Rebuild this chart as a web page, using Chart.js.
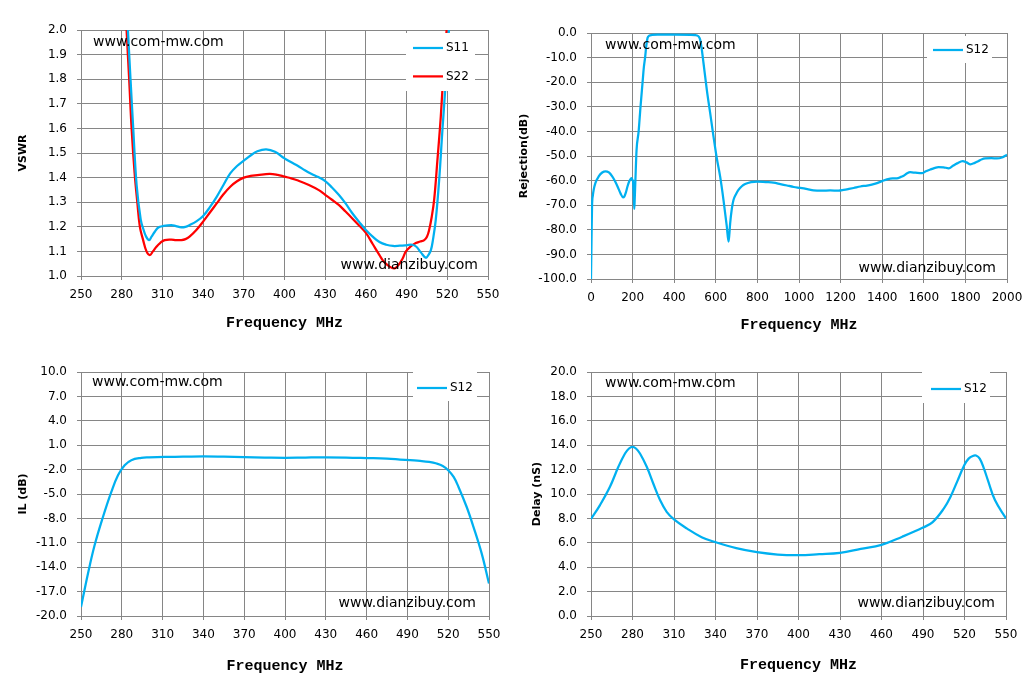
<!DOCTYPE html>
<html>
<head>
<meta charset="utf-8">
<script src="https://cdn.jsdelivr.net/npm/chart.js@4.4.1/dist/chart.umd.min.js"></script>
<style>
  body { margin: 0; background: #fff; width: 1031px; height: 682px; position: relative; overflow: hidden; }
  canvas { position: absolute; }
</style>
</head>
<body>
<canvas id="vswr" width="510" height="340" style="left:0;top:0"></canvas>
<canvas id="rej" width="521" height="340" style="left:510px;top:0"></canvas>
<canvas id="il" width="510" height="342" style="left:0;top:340px"></canvas>
<canvas id="delay" width="521" height="342" style="left:510px;top:340px"></canvas>
<script>
// ---- data ----
const bandTicks = [250, 280, 310, 340, 370, 400, 430, 460, 490, 520, 550];
const wideTicks = [0, 200, 400, 600, 800, 1000, 1200, 1400, 1600, 1800, 2000];
const vswrTicks = [1.0, 1.1, 1.2, 1.3, 1.4, 1.5, 1.6, 1.7, 1.8, 1.9, 2.0];
const rejTicks = [-100, -90, -80, -70, -60, -50, -40, -30, -20, -10, 0];
const ilTicks = [-20, -17, -14, -11, -8, -5, -2, 1, 4, 7, 10];
const delayTicks = [0, 2, 4, 6, 8, 10, 12, 14, 16, 18, 20];

const s11Freq = [282.5, 284.6, 286.5, 288.5, 291, 294, 296, 298, 300.2, 302, 304.4, 307, 310.5, 316.6, 320, 324, 327, 330,
  335, 340, 345, 350, 355, 360, 365, 370, 375, 380, 386.5, 393, 400, 405, 410, 415, 420, 425, 430, 435, 440, 445, 450,
  455, 460, 465, 470, 475, 480, 485, 490, 494, 497, 500.5, 504.2, 506, 507.9, 509.5, 511.5, 514, 516.4, 518.6, 521.2, 522.5];
const s11Vswr = [2.25, 2.0, 1.8, 1.6, 1.37, 1.23, 1.19, 1.16, 1.146, 1.16, 1.18, 1.197, 1.203, 1.207, 1.203, 1.198, 1.2, 1.207,
  1.222, 1.244, 1.28, 1.322, 1.37, 1.417, 1.447, 1.469, 1.49, 1.507, 1.515, 1.505, 1.478, 1.462, 1.447, 1.43, 1.415, 1.402,
  1.386, 1.36, 1.33, 1.295, 1.255, 1.22, 1.187, 1.16, 1.138, 1.127, 1.122, 1.123, 1.125, 1.127, 1.12, 1.096, 1.074, 1.085,
  1.105, 1.15, 1.228, 1.39, 1.593, 1.77, 2.0, 2.12];

const s22Freq = [281.5, 283.6, 285.5, 287.3, 289.5, 291.5, 293.4, 295.8, 298.3, 300.7, 303, 305.6, 308.5, 311.7, 316.6, 320,
  324, 327, 330, 335, 340, 345, 350, 355, 360, 365, 370, 375, 380, 389, 395, 400, 405, 410, 418, 425,
  430, 435, 440, 445, 450, 455, 460, 465, 470, 473, 477, 481, 484, 487, 489.5, 493, 496.8, 500, 503, 505, 506.6, 508.5,
  510.3, 512.7, 515.2, 517.6, 519.5, 521];
const s22Vswr = [2.25, 2.0, 1.8, 1.6, 1.42, 1.3, 1.2, 1.146, 1.1, 1.085, 1.1, 1.119, 1.135, 1.146, 1.148, 1.146, 1.146, 1.15,
  1.16, 1.187, 1.221, 1.258, 1.295, 1.332, 1.363, 1.385, 1.4, 1.407, 1.41, 1.415, 1.411, 1.404, 1.397, 1.388, 1.37, 1.35,
  1.33, 1.31, 1.289, 1.262, 1.234, 1.205, 1.175, 1.13, 1.085, 1.06, 1.04, 1.031, 1.045, 1.07, 1.1, 1.12, 1.134,
  1.14, 1.146, 1.16, 1.187, 1.24, 1.309, 1.47, 1.648, 1.865, 2.0, 2.13];

const rejFreq = [0, 3, 5, 9, 13, 21, 37, 54, 70, 86, 102, 115, 127, 143, 154, 160, 167, 175, 184, 195, 200, 202, 205, 208,
  210, 213, 219, 229, 238, 248, 254, 260, 266, 272, 280, 293, 320, 400, 480, 500, 509, 518, 525, 533, 541, 557, 573, 589,
  605, 621, 637, 653, 661, 665, 669, 677, 685, 697, 709, 725, 741, 770, 800, 840, 877, 910, 942, 975, 1006, 1040, 1070,
  1110, 1150, 1190, 1215, 1240, 1263, 1295, 1327, 1350, 1375, 1400, 1423, 1450, 1471, 1490, 1503, 1520, 1535, 1560, 1591,
  1610, 1631, 1650, 1671, 1695, 1720, 1740, 1760, 1787, 1805, 1824, 1845, 1864, 1880, 1896, 1925, 1952, 1976, 2000];
const rejS12 = [-100, -81, -70.4, -66, -63.7, -61, -58.3, -56.7, -56.2, -56.7, -58.3, -60.2, -62.3, -65.4, -66.8, -66.5,
  -65, -62.5, -60.3, -59, -59.8, -60.3, -65, -71.5, -68, -61, -47.6, -40, -30, -20, -14, -10, -5, -2, -1.1, -0.8, -0.7,
  -0.7, -0.8, -0.9, -1.0, -1.5, -2.8, -6.9, -12.3, -23.2, -32.6, -42.1, -51, -58.4, -67.9, -78.7, -84.8, -82, -77.4, -71.5,
  -67.9, -65.5, -63.8, -62.3, -61.4, -60.6, -60.4, -60.6, -60.8, -61.4, -62, -62.6, -63, -63.5, -64, -64.1, -64, -64.1,
  -63.8, -63.4, -63, -62.4, -62, -61.6, -61, -60.2, -59.5, -59.1, -59.1, -58.5, -58, -57, -56.6, -56.8, -57, -56.2, -55.5,
  -54.9, -54.5, -54.6, -55, -54, -53, -52.1, -52.6, -53.4, -52.8, -52, -51.3, -51, -50.9, -51, -50.6, -49.5];

const ilFreq = [250, 255.1, 260, 266.2, 272.3, 277.2, 282.1, 287, 294.3, 300, 311.5, 325, 340, 355, 370, 385, 400, 415, 430,
  445, 460, 475, 484.6, 492, 499.3, 506, 511.5, 516, 520, 524, 527.5, 533.6, 538.5, 544.6, 550];
const ilS12 = [-18.9, -14.8, -11.3, -7.8, -4.74, -2.69, -1.46, -0.84, -0.56, -0.5, -0.44, -0.42, -0.38, -0.42, -0.48, -0.52,
  -0.55, -0.52, -0.5, -0.52, -0.58, -0.65, -0.76, -0.85, -0.93, -1.05, -1.25, -1.55, -2.07, -2.9, -4.1, -6.6, -9.0, -12.3, -16.0];

const delayFreq = [250, 256.5, 263.7, 269.8, 274.6, 277.5, 280, 282.5, 285.4, 290.3, 295, 299.9, 304.7, 310, 319.2, 330, 340,
  355, 370, 385, 400, 415, 430, 445, 460, 475, 490, 497, 505, 510, 515, 520, 523, 526, 528.3, 531, 534, 537, 542, 550];
const delayS12 = [7.95, 9.09, 10.59, 12.23, 13.32, 13.73, 13.86, 13.73, 13.32, 12.23, 10.86, 9.5, 8.54, 7.92, 7.18, 6.46, 6.05,
  5.56, 5.23, 5.04, 4.99, 5.07, 5.18, 5.5, 5.83, 6.5, 7.25, 7.7, 8.8, 9.8, 11.1, 12.4, 12.9, 13.12, 13.15, 12.9, 12.1, 11.1,
  9.5, 8.0];

const MARK_TOP = 'www.com-mw.com';
const MARK_BOTTOM = 'www.dianzibuy.com';
const BLUE = '#00B0F0';
const RED = '#FF0000';
const GRID = '#868686';

Chart.defaults.font.family = '"DejaVu Sans"';
Chart.defaults.color = '#000';

// watermarks and the white legend box, drawn over the traces
const decor = {
  id: 'decor',
  afterDatasetsDraw(chart, args, o) {
    const { ctx, chartArea: a } = chart;
    ctx.save();
    ctx.textBaseline = 'middle';
    ctx.fillStyle = '#000';
    ctx.font = '14px "DejaVu Sans"';
    ctx.textAlign = 'left';
    ctx.fillText(MARK_TOP, a.left + o.mark[0], a.top + o.mark[1]);
    ctx.textAlign = 'right';
    ctx.fillText(MARK_BOTTOM, a.right - o.mark[2], a.bottom - o.mark[3]);

    const L = o.legend;
    const bx = a.right - L.right, by = a.top + L.top;
    ctx.fillStyle = '#fff';
    ctx.fillRect(bx, by, L.w, L.h);
    ctx.font = '12px "DejaVu Sans"';
    ctx.textAlign = 'left';
    chart.data.datasets.forEach((ds, i) => {
      const y = by + L.row + i * L.step;
      ctx.strokeStyle = ds.borderColor;
      ctx.lineWidth = ds.borderWidth;
      ctx.beginPath();
      ctx.moveTo(bx + L.line, y);
      ctx.lineTo(bx + L.line + 30, y);
      ctx.stroke();
      ctx.fillStyle = '#000';
      ctx.fillText(ds.label, bx + L.line + 33, y);
    });
    ctx.restore();
  }
};

// smooth: true -> tension spline, false -> monotone (for the sharp notches)
function series(label, color, xs, ys, smooth) {
  return {
    label,
    data: xs.map((x, i) => ({ x, y: ys[i] })),
    borderColor: color,
    borderWidth: 2.25,
    pointRadius: 0,
    tension: smooth ? 0.4 : 0,
    cubicInterpolationMode: smooth ? 'default' : 'monotone',
    fill: false
  };
}

function makeChart(id, cfg) {
  new Chart(document.getElementById(id), {
    type: 'line',
    data: { datasets: cfg.datasets },
    plugins: [decor],
    options: {
      responsive: false,
      animation: false,
      layout: { padding: { top: cfg.top, right: cfg.right, left: 0, bottom: 0 } },
      plugins: {
        legend: { display: false },
        tooltip: { enabled: false },
        decor: { mark: cfg.mark, legend: cfg.legend }
      },
      scales: {
        x: {
          type: 'linear',
          min: cfg.xTicks[0],
          max: cfg.xTicks[cfg.xTicks.length - 1],
          afterBuildTicks: s => { s.ticks = cfg.xTicks.map(v => ({ value: v })); },
          afterFit: s => { s.height = cfg.xHeight; },
          ticks: { font: { size: 12 }, padding: 8, maxRotation: 0, callback: v => String(v) },
          grid: { color: GRID, lineWidth: 1, tickLength: 4 },
          border: { color: GRID },
          title: {
            display: true,
            text: 'Frequency MHz',
            font: { family: '"Liberation Mono"', size: 15, weight: 'bold' },
            padding: { top: 0, bottom: cfg.xTitlePad }
          }
        },
        y: {
          type: 'linear',
          min: cfg.yTicks[0],
          max: cfg.yTicks[cfg.yTicks.length - 1],
          afterBuildTicks: s => { s.ticks = cfg.yTicks.map(v => ({ value: v })); },
          afterFit: s => { s.width = cfg.yWidth; },
          ticks: { font: { size: 12 }, padding: 10, callback: v => v.toFixed(1) },
          grid: { color: GRID, lineWidth: 1, tickLength: 4 },
          border: { color: GRID },
          title: {
            display: true,
            text: cfg.yTitle,
            font: { size: 11, weight: 'bold' },
            padding: { top: cfg.yTitlePad, bottom: 0 }
          }
        }
      }
    }
  });
}

makeChart('vswr', {
  datasets: [series('S11', BLUE, s11Freq, s11Vswr, true), series('S22', RED, s22Freq, s22Vswr, true)],
  xTicks: bandTicks, yTicks: vswrTicks, yTitle: 'VSWR',
  top: 30, right: 22, yWidth: 81, xHeight: 64, xTitlePad: 8, yTitlePad: 17,
  mark: [12, 12, 10, 11],
  legend: { right: 82, top: 3, w: 69, h: 58, line: 7, row: 15, step: 28.4 }
});

makeChart('rej', {
  datasets: [series('S12', BLUE, rejFreq, rejS12, false)],
  xTicks: wideTicks, yTicks: rejTicks, yTitle: 'Rejection(dB)',
  top: 33, right: 24, yWidth: 81, xHeight: 61, xTitlePad: 6, yTitlePad: 8,
  mark: [14, 12, 11, 11],
  legend: { right: 80, top: 3, w: 65, h: 27, line: 6, row: 14, step: 0 }
});

makeChart('il', {
  datasets: [series('S12', BLUE, ilFreq, ilS12, true)],
  xTicks: bandTicks, yTicks: ilTicks, yTitle: 'IL (dB)',
  top: 32, right: 21, yWidth: 81, xHeight: 66, xTitlePad: 7, yTitlePad: 17,
  mark: [11, 10.5, 13, 12.7],
  legend: { right: 76, top: 0, w: 64, h: 29, line: 4, row: 16, step: 0 }
});

makeChart('delay', {
  datasets: [series('S12', BLUE, delayFreq, delayS12, true)],
  xTicks: bandTicks, yTicks: delayTicks, yTitle: 'Delay (nS)',
  top: 32, right: 25, yWidth: 81, xHeight: 66, xTitlePad: 8, yTitlePad: 21,
  mark: [14, 11.5, 11, 12.7],
  legend: { right: 84, top: 0, w: 68, h: 31, line: 9, row: 17, step: 0 }
});
</script>
</body>
</html>
